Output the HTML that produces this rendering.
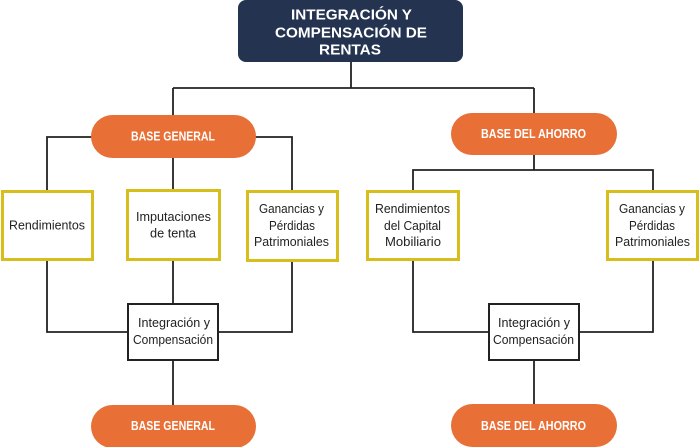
<!DOCTYPE html>
<html>
<head>
<meta charset="utf-8">
<style>
html,body{margin:0;padding:0;background:#fff;}
svg{display:block;}
.t{font-family:"Liberation Sans",sans-serif;font-size:12.5px;fill:#222;}
.w{font-family:"Liberation Sans",sans-serif;font-weight:bold;fill:#fff;}
</style>
</head>
<body>
<svg width="700" height="447" viewBox="0 0 700 447" xmlns="http://www.w3.org/2000/svg">
  <!-- connectors -->
  <g stroke="#222" stroke-width="1.8" fill="none">
    <line x1="351" y1="62" x2="351" y2="88"/>
    <line x1="173" y1="88" x2="534" y2="88"/>
    <line x1="173" y1="88" x2="173" y2="115"/>
    <line x1="534" y1="88" x2="534" y2="113"/>
    <!-- left tree -->
    <polyline points="47,190 47,137 292,137 292,190"/>
    <line x1="173" y1="158" x2="173" y2="190"/>
    <polyline points="47,261 47,332 127,332"/>
    <polyline points="292,262 292,332 219,332"/>
    <line x1="173" y1="260" x2="173" y2="303"/>
    <line x1="173" y1="361" x2="173" y2="405"/>
    <!-- right tree -->
    <line x1="534" y1="155" x2="534" y2="170"/>
    <polyline points="413,190 413,170 653,170 653,190"/>
    <polyline points="413,260 413,332 488,332"/>
    <polyline points="653,260 653,332 580,332"/>
    <line x1="534" y1="361" x2="534" y2="404"/>
  </g>

  <!-- title -->
  <rect x="238" y="0" width="225" height="62" rx="8" fill="#233350"/>
  <text class="w" font-size="14.5" x="351.5" y="19.5" text-anchor="middle" textLength="121" lengthAdjust="spacingAndGlyphs">INTEGRACIÓN Y</text>
  <text class="w" font-size="14.5" x="351" y="37.5" text-anchor="middle" textLength="152" lengthAdjust="spacingAndGlyphs">COMPENSACIÓN DE</text>
  <text class="w" font-size="14.5" x="350" y="54.5" text-anchor="middle" textLength="62" lengthAdjust="spacingAndGlyphs">RENTAS</text>

  <!-- pills -->
  <rect x="91" y="115" width="165" height="43" rx="21.5" fill="#e86f35"/>
  <text class="w" font-size="12.5" x="173" y="140.5" text-anchor="middle" textLength="84" lengthAdjust="spacingAndGlyphs">BASE GENERAL</text>
  <rect x="451" y="113" width="166" height="42" rx="21" fill="#e86f35"/>
  <text class="w" font-size="12.5" x="533.5" y="138" text-anchor="middle" textLength="105" lengthAdjust="spacingAndGlyphs">BASE DEL AHORRO</text>
  <rect x="91" y="405" width="165" height="43" rx="21.5" fill="#e86f35"/>
  <text class="w" font-size="12.5" x="173" y="430" text-anchor="middle" textLength="84" lengthAdjust="spacingAndGlyphs">BASE GENERAL</text>
  <rect x="451" y="404" width="166" height="43" rx="21.5" fill="#e86f35"/>
  <text class="w" font-size="12.5" x="533.5" y="430" text-anchor="middle" textLength="105" lengthAdjust="spacingAndGlyphs">BASE DEL AHORRO</text>

  <!-- yellow boxes -->
  <g fill="#fff" stroke="#d8be1c" stroke-width="3">
    <rect x="2.5" y="191.5" width="90" height="68"/>
    <rect x="127.5" y="190.5" width="92" height="69"/>
    <rect x="247.5" y="191.5" width="90" height="69"/>
    <rect x="367.5" y="191.5" width="91" height="68"/>
    <rect x="607.5" y="191.5" width="90" height="68"/>
  </g>
  <!-- black boxes -->
  <g fill="#fff" stroke="#222" stroke-width="2">
    <rect x="128" y="304" width="90" height="56"/>
    <rect x="489" y="304" width="90" height="56"/>
  </g>

  <!-- box texts -->
  <text class="t" x="47" y="229.5" text-anchor="middle" textLength="76" lengthAdjust="spacingAndGlyphs">Rendimientos</text>

  <text class="t" x="173.5" y="221" text-anchor="middle" textLength="75" lengthAdjust="spacingAndGlyphs">Imputaciones</text>
  <text class="t" x="173" y="237.5" text-anchor="middle" textLength="46" lengthAdjust="spacingAndGlyphs">de tenta</text>

  <text class="t" x="291.5" y="213" text-anchor="middle" textLength="65" lengthAdjust="spacingAndGlyphs">Ganancias y</text>
  <text class="t" x="292" y="230" text-anchor="middle" textLength="46" lengthAdjust="spacingAndGlyphs">Pérdidas</text>
  <text class="t" x="291.5" y="246" text-anchor="middle" textLength="75" lengthAdjust="spacingAndGlyphs">Patrimoniales</text>

  <text class="t" x="412.5" y="213" text-anchor="middle" textLength="75" lengthAdjust="spacingAndGlyphs">Rendimientos</text>
  <text class="t" x="412.5" y="230" text-anchor="middle" textLength="57" lengthAdjust="spacingAndGlyphs">del Capital</text>
  <text class="t" x="413" y="246" text-anchor="middle" textLength="56" lengthAdjust="spacingAndGlyphs">Mobiliario</text>

  <text class="t" x="652" y="213" text-anchor="middle" textLength="66" lengthAdjust="spacingAndGlyphs">Ganancias y</text>
  <text class="t" x="652" y="230" text-anchor="middle" textLength="46" lengthAdjust="spacingAndGlyphs">Pérdidas</text>
  <text class="t" x="652.5" y="246" text-anchor="middle" textLength="75" lengthAdjust="spacingAndGlyphs">Patrimoniales</text>

  <text class="t" x="174" y="327" text-anchor="middle" textLength="72" lengthAdjust="spacingAndGlyphs">Integración y</text>
  <text class="t" x="173" y="344" text-anchor="middle" textLength="80" lengthAdjust="spacingAndGlyphs">Compensación</text>
  <text class="t" x="534" y="327" text-anchor="middle" textLength="72" lengthAdjust="spacingAndGlyphs">Integración y</text>
  <text class="t" x="533.5" y="344" text-anchor="middle" textLength="81" lengthAdjust="spacingAndGlyphs">Compensación</text>
</svg>
</body>
</html>
